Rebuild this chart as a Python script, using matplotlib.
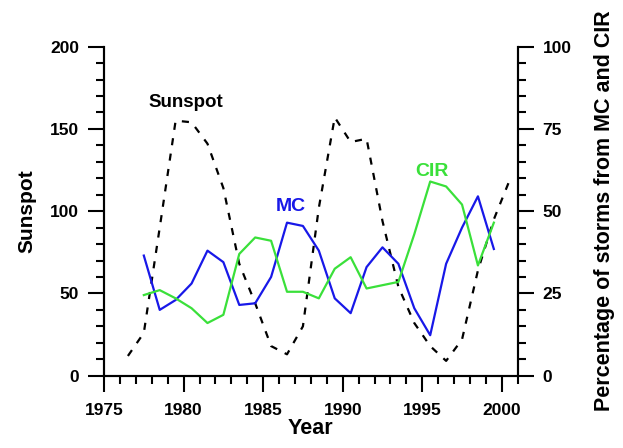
import matplotlib
matplotlib.use("Agg")
import matplotlib.pyplot as plt
from matplotlib.ticker import MultipleLocator

plt.rcParams['font.family'] = ['Liberation Sans', 'DejaVu Sans']
plt.rcParams['font.weight'] = 'bold'

# yearly sunspot number, plotted at mid-year
sun_years = [1976.5, 1977.5, 1978.5, 1979.5, 1980.5, 1981.5, 1982.5, 1983.5,
             1984.5, 1985.5, 1986.5, 1987.5, 1988.5, 1989.5, 1990.5, 1991.5,
             1992.5, 1993.5, 1994.5, 1995.5, 1996.5, 1997.5, 1998.5, 1999.5,
             2000.5]
sunspot = [12, 26, 90, 155, 154, 141, 114, 68, 44, 18, 13, 30, 102, 157,
           142, 144, 94, 54, 32, 18, 9, 22, 64, 95, 119]

# percentage of storms driven by MC and CIR
storm_years = [1977.5, 1978.5, 1979.5, 1980.5, 1981.5, 1982.5, 1983.5,
               1984.5, 1985.5, 1986.5, 1987.5, 1988.5, 1989.5, 1990.5,
               1991.5, 1992.5, 1993.5, 1994.5, 1995.5, 1996.5, 1997.5,
               1998.5, 1999.5]
mc = [36.5, 20, 23, 28, 38, 34.5, 21.5, 22, 30, 46.5, 45.5, 38, 23.5, 19,
      33, 39, 34, 20.5, 12.3, 34, 45, 54.5, 38.5]
cir = [24.5, 26, 23.5, 20.5, 16, 18.5, 37, 42, 41, 25.5, 25.5, 23.5, 32.5,
       36, 26.5, 27.5, 28.5, 43, 59, 57.5, 52, 33.5, 46.5]

blue = '#1818e8'
green = '#3ae03a'

fig = plt.figure(figsize=(6.23, 4.48), dpi=100)
ax = fig.add_axes([0.167, 0.1614, 0.664, 0.7346])
ax2 = ax.twinx()

ax.plot(sun_years, sunspot, color='k', lw=1.6, dashes=(3.2, 3.8))
ax2.plot(storm_years, mc, color=blue, lw=1.6)
ax2.plot(storm_years, cir, color=green, lw=1.6)

ax.set_xlim(1975, 2001)
ax.set_ylim(0, 200)
ax2.set_ylim(0, 100)

ax.xaxis.set_major_locator(MultipleLocator(5))
ax.xaxis.set_minor_locator(MultipleLocator(1))
ax.yaxis.set_major_locator(MultipleLocator(50))
ax.yaxis.set_minor_locator(MultipleLocator(10))
ax2.yaxis.set_major_locator(MultipleLocator(25))
ax2.yaxis.set_minor_locator(MultipleLocator(5))

for a in (ax, ax2):
    a.spines['top'].set_visible(False)
    for s in ('left', 'right', 'bottom'):
        a.spines[s].set_linewidth(1.5)
    a.tick_params(which='major', direction='out', length=11.5, width=1.5,
                  labelsize=12.5, pad=6.5)
    a.tick_params(which='minor', direction='out', length=6, width=1.5)
ax.tick_params(axis='x', which='major', pad=8)

ax.set_xlabel('Year', fontsize=15.5, fontweight='bold', labelpad=0)
ax.set_ylabel('Sunspot', fontsize=15, fontweight='bold', labelpad=10)
ax2.set_ylabel('Percentage of storms from MC and CIR', fontsize=15.5,
               fontweight='bold', labelpad=16)

ax.text(1980.15, 166, 'Sunspot', color='k', fontsize=13.5,
        fontweight='bold', ha='center', va='center')
ax2.text(1986.75, 51.5, 'MC', color=blue, fontsize=14,
         fontweight='bold', ha='center', va='center')
ax2.text(1995.6, 62, 'CIR', color=green, fontsize=14,
         fontweight='bold', ha='center', va='center')

fig.savefig('out.png', dpi=100)
